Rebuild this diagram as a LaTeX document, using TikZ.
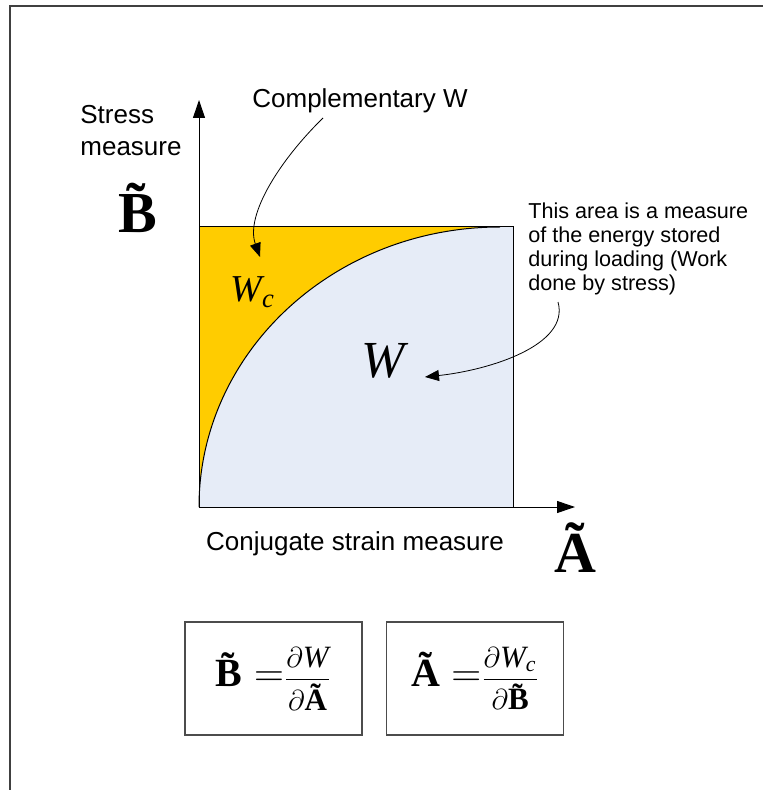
\documentclass[tikz,border=0pt]{standalone}
\usepackage{amsmath}
\usepackage{fontspec}
\setmainfont{Liberation Serif}
\newfontfamily\arialfont{Liberation Sans}
\usetikzlibrary{arrows.meta,positioning}
\definecolor{wcyellow}{RGB}{255,204,0}
\definecolor{wblue}{RGB}{230,236,247}
\newcommand\tildeB{\text{\bfseries B\symbol{"0303}}}
\newcommand\tildeA{\text{\bfseries A\symbol{"0303}}}
\newcommand\fracsize{\fontsize{15.5}{17}\selectfont}
\begin{document}
\begin{tikzpicture}[x=0.5pt,y=-0.5pt,
 lab/.style={font=\arialfont\fontsize{13}{16}\selectfont,inner sep=0pt,align=left},
 note/.style={font=\arialfont\fontsize{10.8}{12}\selectfont,inner sep=0pt,align=left},
 big/.style={inner sep=0pt,font=\fontsize{#1}{#1}\selectfont},
 axis/.style={-{Triangle[length=9pt,width=6pt]},line width=0.5pt},
 callout/.style={-{Triangle[length=7pt,width=5.5pt]},line width=0.4pt},
 eqbox/.style={draw=black!70,line width=0.6pt,minimum width=88.5pt,minimum height=56.5pt,inner sep=0pt,font=\fontsize{20}{22}\selectfont}]
 \useasboundingbox (0,0) rectangle (762,790);
 \draw[black!75,line width=1pt] (10,800) |- (770,6);
 % areas under and over the curve
 \coordinate (O) at (199,507);
 \coordinate (top) at (500,227);
 \fill[wcyellow] (O) -- (199,227) -- (top) .. controls (333.8,227) and (199,352.4) .. (O);
 \fill[wblue] (O) .. controls (199,352.4) and (333.8,227) .. (top) -- (513,227) -- (513,507) -- cycle;
 \draw[line width=0.5pt] (199,227) -- (513,227) -- (513,507);
 \draw[line width=0.5pt] (O) .. controls (199,352.4) and (333.8,227) .. (top);
 % axes
 \coordinate (ytop) at (199,100);
 \coordinate (xend) at (575,507);
 \draw[axis] (O) -- (ytop);
 \draw[axis] (O) -- (xend);
 % labels
 \node[lab,anchor=north west] (stress) at (80,105) {Stress\\measure};
 \node[big=29,anchor=base] (Bt) at (138,233) {$\tildeB$};
 \node[lab,anchor=base] (comp) at (360,108) {Complementary W};
 \node[big=19,anchor=base west] (Wc) at (230,302) {$\mathit{W}_{\mathit{c}}$};
 \node[big=26,anchor=base] (W) at (383,377) {$\mathit{W}$};
 \node[note,anchor=north west] (area) at (528,202) {This area is a measure\\of the energy stored\\during loading (Work\\done by stress)};
 \node[lab,anchor=base] (strain) at (355,550) {Conjugate strain measure};
 \node[big=29,anchor=base] (At) at (575,572) {$\tildeA$};
 % callouts
 \coordinate (c1) at (323,118);
 \coordinate (c1e) at (260,257);
 \draw[callout] (c1) .. controls (280,160) and (245,215) .. (c1e);
 \coordinate (c2) at (558,302);
 \coordinate (c2e) at (425,377);
 \draw[callout] (c2) .. controls (570,345) and (490,370) .. (c2e);
 % derivative boxes
 \node[eqbox] (eqB) at (273.5,678.5) {\raisebox{-3.5pt}{$\tildeB\;\mathord{=}$%
   {\fracsize$\dfrac{\partial \mathit{W}}{\partial\tildeA}$}}};
 \node[eqbox] (eqA) at (475,678.5) {\raisebox{-3.5pt}{$\tildeA\;\mathord{=}$%
   {\fracsize$\dfrac{\partial \mathit{W}_{\mathit{c}}}{\partial\tildeB}$}}};
\end{tikzpicture}
\end{document}
